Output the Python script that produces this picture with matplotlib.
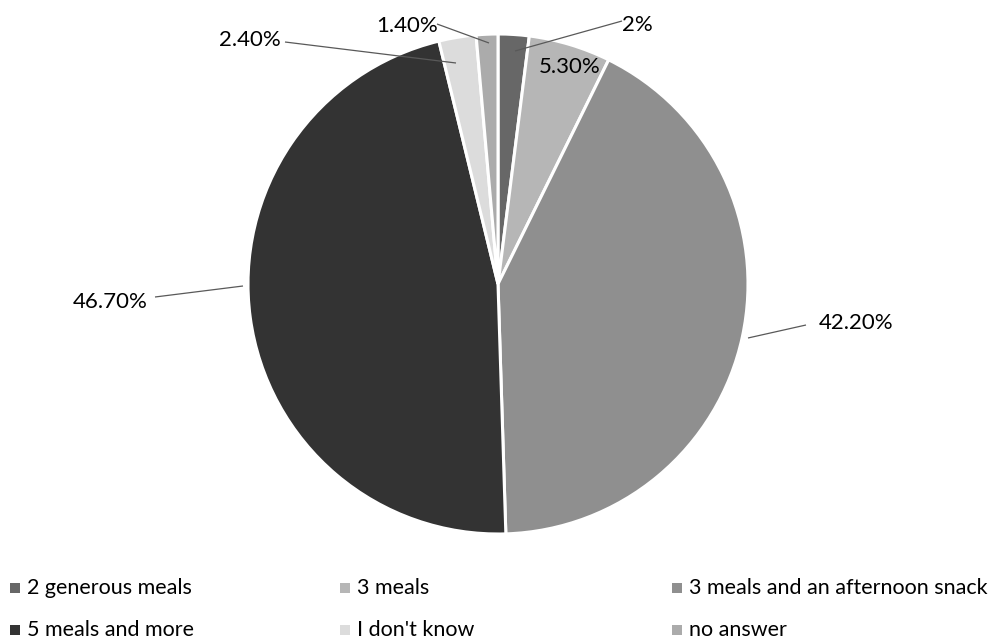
import numpy as np
import matplotlib
matplotlib.use("Agg")
import matplotlib.pyplot as plt
from matplotlib.patches import Rectangle

plt.rcParams['font.family'] = ['Lato', 'DejaVu Sans']

categories = ["2 generous meals", "3 meals", "3 meals and an afternoon snack",
              "5 meals and more", "I don't know", "no answer"]
values = [2.0, 5.3, 42.2, 46.7, 2.4, 1.4]
value_labels = ["2%", "5.30%", "42.20%", "46.70%", "2.40%", "1.40%"]
colors = ["#676767", "#b6b6b6", "#8f8f8f", "#333333", "#dcdcdc", "#ababab"]

W, H = 1001, 639
fig = plt.figure(figsize=(W / 100, H / 100), dpi=100)

cx, cy, R = 498, 284, 250
ax = fig.add_axes([(cx - R) / W, (H - cy - R) / H, 2 * R / W, 2 * R / H])

wedges, _ = ax.pie(values, colors=colors, startangle=90, counterclock=False,
                   radius=1.0, wedgeprops=dict(edgecolor='white', linewidth=2.2))
ax.set_xlim(-1, 1)
ax.set_ylim(-1, 1)
ax.set_aspect('equal')
ax.axis('off')


def px(x, y):
    """pixel position -> data coordinates of the pie axes"""
    return (x - cx) / R, (cy - y) / R


# label text centres and leader lines (pixel positions)
label_pos = [(637, 25), (570, 67), (856, 323), (110, 302), (250, 40), (407, 26)]
leaders = [((622, 21), (515, 51)), None, ((806, 325), (748, 338)),
           ((155, 297), (243, 286)), ((285, 42), (456, 63)), ((437, 24), (489, 43))]

for lab, pos, ld in zip(value_labels, label_pos, leaders):
    tx, ty = px(*pos)
    ax.text(tx, ty, lab, ha='center', va='center', fontsize=16,
            color='#000000', clip_on=False)
    if ld is not None:
        (x0, y0), (x1, y1) = px(*ld[0]), px(*ld[1])
        ax.plot([x0, x1], [y0, y1], color='#595959', lw=0.9, clip_on=False,
                solid_capstyle='butt')

# legend in two rows of three columns
col_x = [10, 340, 672]
row_y = [588, 630]
for i, (name, c) in enumerate(zip(categories, colors)):
    r, k = divmod(i, 3)
    x, y = col_x[k], row_y[r]
    fig.patches.append(Rectangle((x / W, (H - y - 5) / H), 10 / W, 10 / H,
                                 transform=fig.transFigure, facecolor=c,
                                 edgecolor='none'))
    fig.text((x + 17) / W, (H - y) / H, name, ha='left', va='center',
             fontsize=15.5, color='#000000')

fig.savefig("out.png", dpi=100, facecolor='white')
